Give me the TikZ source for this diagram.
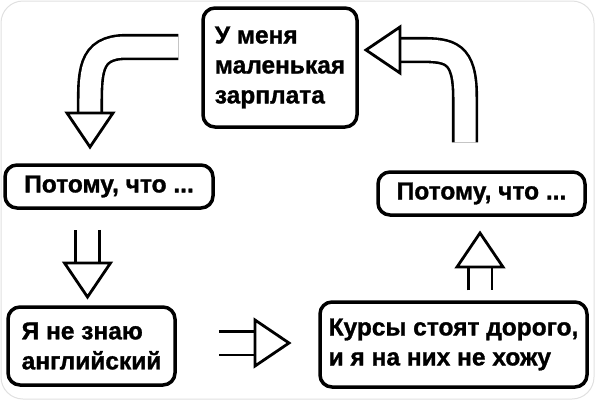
\documentclass[tikz,border=0pt]{standalone}
\usepackage{fontspec}
\setmainfont{Liberation Sans}
\newfontfamily\heavyfont{Liberation Sans}[UprightFont=*-Bold, UprightFeatures={FakeBold=1.2}]

\begin{document}
\begin{tikzpicture}[x=1pt, y=-1pt,
  box/.style={draw, line width=3.5pt, rounded corners=12pt, align=left, inner sep=0pt, font=\heavyfont\fontsize{24.5}{30}\selectfont},
  shaft/.style={line width=2.6pt, double=white, double distance=21pt},
  head/.pic={\draw[line width=2.8pt, fill=white] (0,-23) -- (34,0) -- (0,23) -- cycle;}]
\useasboundingbox (0,0) rectangle (595,400);
\draw[black!12, line width=1pt, rounded corners=22pt] (1,1) rectangle (594,399);

\node (salary) [box, minimum width=154pt, minimum height=119pt] at (280,67.5) {У меня\\маленькая\\зарплата};
\node (why1) [box, minimum width=208pt, minimum height=43pt] at (109,186.5) {Потому, что ...};
\node (why2) [box, minimum width=207pt, minimum height=43pt] at (481.5,193.5) {Потому, что ...};
\node (english) [box, minimum width=167pt, minimum height=78pt] at (91.5,346) {Я не знаю\\английский};
\node (courses) [box, minimum width=267pt, minimum height=85pt] at (453.5,344.5) {Курсы стоят дорого,\\и я на них не хожу};

\coordinate (h1) at (90,113);
\coordinate (h2) at (400,50);
\coordinate (h3) at (480,267);
\coordinate (h4) at (87.5,263);
\coordinate (h5) at (255,343);

\draw[shaft] ([shift={(-23,-20.5)}]salary.west) -- ++(-52,0) .. controls +(-38,0) and +(0,-40) .. (h1);
\draw[shaft] ([shift={(-16.5,-28)}]why2.north) -- ++(0,-45) .. controls +(0,-45) and +(30,0) .. ([shift={(20,0)}]h2) -- (h2);
\draw[shaft] ([shift={(26.5,-10)}]courses.north) -- (h3);
\draw[shaft] ([shift={(-21.5,20)}]why1.south) -- (h4);
\draw[shaft] ([shift={(42,-3)}]english.east) -- (h5);

\pic[rotate=-90] at (h1) {head};
\pic[rotate=180] at (h2) {head};
\pic[rotate=90] at (h3) {head};
\pic[rotate=-90] at (h4) {head};
\pic at (h5) {head};
\end{tikzpicture}
\end{document}
